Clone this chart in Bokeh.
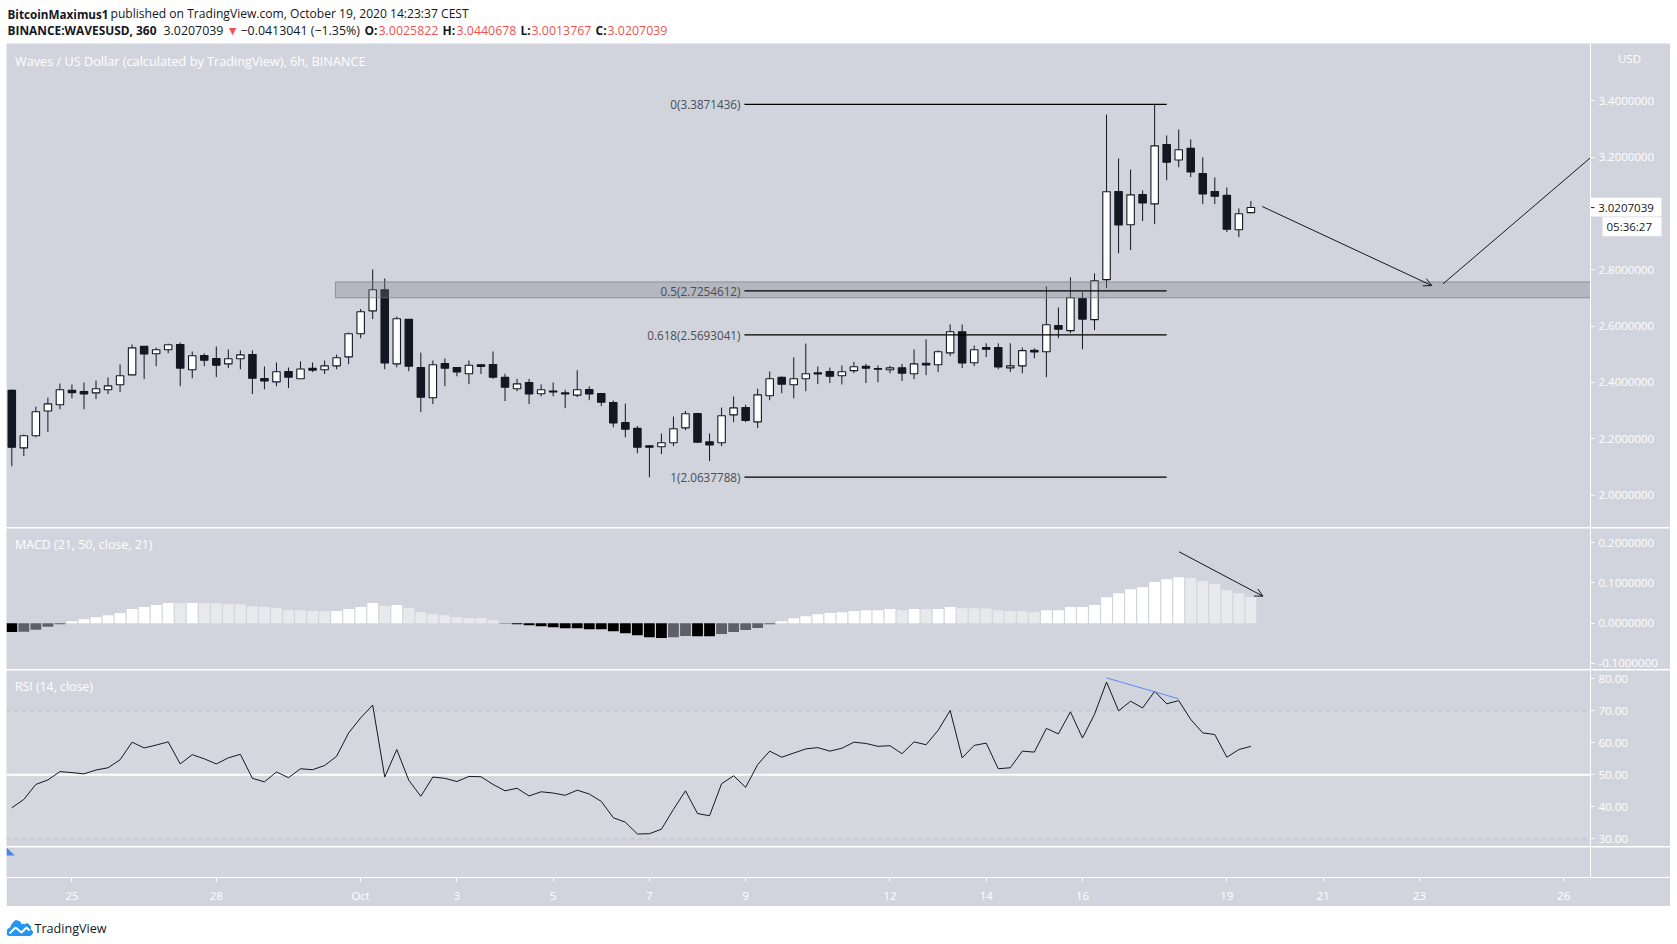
from bokeh.core.properties import value
from bokeh.embed import file_html
from bokeh.resources import INLINE
from bokeh.layouts import column
from bokeh.plotting import figure
from bokeh.models import (Range1d, Label, FixedTicker, NumeralTickFormatter, Arrow,
                          OpenHead, LinearAxis, ColumnDataSource)

opens = [2.372,2.168,2.211,2.299,2.321,2.372,2.368,2.363,2.374,2.392,2.427,2.528,2.502,2.516,2.535,2.445,2.496,2.485,2.466,2.484,
         2.499,2.414,2.402,2.439,2.413,2.450,2.445,2.459,2.491,2.573,2.654,2.729,2.466,2.624,2.453,2.346,2.467,2.453,2.431,2.463,
         2.464,2.418,2.378,2.400,2.360,2.370,2.363,2.355,2.375,2.361,2.329,2.258,2.237,2.175,2.172,2.186,2.239,2.290,2.189,2.186,
         2.285,2.311,2.260,2.353,2.418,2.392,2.413,2.434,2.439,2.424,2.442,2.457,2.449,2.445,2.452,2.431,2.468,2.463,2.505,2.580,
         2.470,2.524,2.524,2.452,2.459,2.514,2.509,2.602,2.584,2.698,2.623,2.765,3.078,2.960,3.067,3.034,3.245,3.190,3.231,3.142,
         3.078,3.064,2.942,3.003]
closes = [2.170,2.211,2.296,2.324,2.374,2.364,2.359,2.378,2.388,2.424,2.523,2.501,2.516,2.534,2.451,2.495,2.479,2.461,2.484,2.498,
          2.415,2.405,2.438,2.419,2.448,2.444,2.459,2.488,2.573,2.651,2.729,2.469,2.626,2.458,2.348,2.463,2.451,2.437,2.461,2.457,
          2.419,2.383,2.395,2.359,2.374,2.366,2.359,2.374,2.359,2.330,2.256,2.234,2.170,2.170,2.186,2.236,2.289,2.188,2.178,2.282,
          2.310,2.265,2.356,2.413,2.394,2.413,2.431,2.430,2.422,2.438,2.456,2.451,2.447,2.452,2.433,2.466,2.462,2.509,2.580,2.469,
          2.516,2.518,2.455,2.459,2.513,2.508,2.605,2.589,2.701,2.625,2.761,3.077,2.959,3.066,3.037,3.240,3.182,3.226,3.147,3.069,
          3.061,2.944,2.999,3.021]
highs = [2.375,2.215,2.314,2.346,2.396,2.393,2.400,2.407,2.418,2.464,2.535,2.528,2.524,2.538,2.542,2.510,2.503,2.528,2.517,2.514,
         2.514,2.457,2.471,2.453,2.475,2.471,2.478,2.499,2.577,2.661,2.801,2.769,2.634,2.624,2.506,2.478,2.485,2.454,2.478,2.465,
         2.510,2.431,2.413,2.413,2.393,2.400,2.374,2.443,2.386,2.363,2.336,2.325,2.246,2.178,2.219,2.279,2.299,2.292,2.219,2.311,
         2.350,2.321,2.378,2.439,2.421,2.489,2.538,2.457,2.453,2.460,2.473,2.466,2.460,2.459,2.466,2.517,2.553,2.514,2.606,2.606,
         2.531,2.539,2.539,2.539,2.524,2.521,2.741,2.666,2.773,2.720,2.787,3.351,3.195,3.156,3.082,3.389,3.277,3.298,3.263,3.199,
         3.128,3.092,3.018,3.044]
lows = [2.103,2.139,2.206,2.224,2.305,2.344,2.305,2.341,2.359,2.366,2.427,2.412,2.458,2.504,2.387,2.415,2.458,2.419,2.451,2.447,
        2.359,2.376,2.387,2.380,2.413,2.437,2.430,2.447,2.465,2.557,2.625,2.447,2.454,2.440,2.295,2.323,2.387,2.422,2.394,2.430,
        2.413,2.334,2.369,2.323,2.351,2.351,2.309,2.348,2.337,2.316,2.241,2.206,2.149,2.064,2.146,2.174,2.231,2.185,2.121,2.174,
        2.259,2.259,2.238,2.337,2.362,2.344,2.369,2.394,2.398,2.393,2.433,2.398,2.401,2.433,2.405,2.412,2.426,2.437,2.494,2.451,
        2.458,2.490,2.447,2.437,2.433,2.486,2.419,2.557,2.575,2.518,2.586,2.735,2.859,2.870,2.973,2.962,3.118,3.164,3.129,3.033,
        3.033,2.934,2.916,3.001]
macd_hist = [-.022,-.0215,-.0165,-.009,-.0025,.005,.010,.015,.020,.025,.035,.040,.045,.050,.0498,.0500,.0498,.0497,.047,.0468,
             .042,.040,.0375,.0325,.0323,.030,.0298,.0300,.035,.040,.050,.0425,.045,.0375,.0275,.0225,.020,.015,.0125,.0123,
             .0075,-.001,-.0025,-.005,-.0075,-.010,-.0125,-.0126,-.015,-.0152,-.020,-.025,-.030,-.035,-.037,-.035,-.032,-.0322,-.0325,-.027,
             -.022,-.017,-.012,-.0025,.005,.012,.017,.022,.025,.027,.030,.032,.0322,.035,.032,.035,.0348,.035,.040,.037,
             .0368,.0366,.032,.030,.0298,.027,.032,.0322,.040,.0402,.045,.0645,.0745,.084,.089,.102,.109,.114,.112,.104,
             .097,.082,.074,.0645]
rsi = [39.7,42.3,47.0,48.4,51.0,50.7,50.3,51.5,52.2,54.7,60.2,58.4,59.3,60.3,53.4,56.3,55.0,53.4,55.3,56.4,
       48.9,47.8,50.9,49.1,51.9,51.6,52.9,55.8,63.1,67.8,71.8,49.3,57.9,48.3,43.3,49.3,48.9,47.9,49.5,49.4,
       47.0,45.0,45.8,43.4,44.7,44.3,43.6,45.2,44.0,41.7,36.6,35.2,31.5,31.6,33.0,39.2,45.0,37.9,37.2,47.2,
       49.7,46.1,53.2,57.4,55.5,56.8,58.1,58.5,57.4,58.3,60.2,59.8,58.9,59.1,56.6,60.3,59.4,63.9,70.1,55.3,
       59.2,59.9,51.9,52.2,57.4,57.1,64.5,62.8,69.7,61.5,68.9,79.0,70.0,73.0,70.9,76.1,72.2,73.2,67.3,63.1,
       62.6,55.5,57.9,58.9]

price_ticks = [2.0,2.2,2.4,2.6,2.8,3.2,3.4]
macd_ticks = [-0.1,0.0,0.1,0.2]
rsi_ticks = [30,40,50,60,70,80]
time_tick_bars = [5,17,29,37,45,53,61,73,81,89,101,109,117,129]
time_tick_labels = ["25","28","Oct","3","5","7","9","12","14","16","19","21","23","26"]
fib_levels = [3.3871436,2.7254612,2.5693041,2.0637788]
fib_labels = ["0(3.3871436)","0.5(2.7254612)","0.618(2.5693041)","1(2.0637788)"]
fib_bar_start = 60.9
fib_bar_end = 96.0
zone_low, zone_high = 2.7006, 2.757
zone_bar_start = 26.9
path_down = ((103.94,3.0247),(118.04,2.744))
path_up = ((118.97,2.750),(131.23,3.198))
macd_arrow = ((97.03,.1772),(104.0,.067))
rsi_trend = ((91,97),(80.3,73.75))
last_price = 3.0207039
last_price_text = "3.0207039"
countdown_text = "05:36:27"

BG = "#d1d4dc"; DARK = "#131722"; W = 1664
X0, AXIS, X1 = -0.4406, 131.23, 137.88
FONT = "Open Sans"
bars = list(range(len(opens)))

def pane(h, yr, mb=0):
    f = figure(width=W, height=h, x_range=Range1d(X0, X1), y_range=Range1d(*yr),
               output_backend="svg", toolbar_location=None, y_axis_location=None,
               background_fill_color=BG, border_fill_color=BG, min_border=0, min_border_bottom=mb,
               outline_line_color=None, x_axis_location=None)
    f.grid.visible = False
    return f

def price_axis(f, ticks, fmt):
    ax = LinearAxis(fixed_location=AXIS, ticker=FixedTicker(ticks=ticks),
                    formatter=NumeralTickFormatter(format=fmt),
                    axis_line_color="white", major_tick_line_color="white",
                    major_tick_out=4, major_tick_in=0, minor_tick_line_color=None,
                    major_label_text_color="white", major_label_text_font=FONT,
                    major_label_text_font_size="11.5px", major_label_standoff=4)
    f.add_layout(ax, "right")
    return ax

def txt(f, x, y, s, color="white", size="12px", style="normal", align="left", alpha=1.0):
    f.add_layout(Label(x=x, y=y, x_units="screen", y_units="screen", text=s, text_color=color,
                       text_font=FONT, text_font_size=size, text_font_style=style, text_align=align,
                       text_alpha=alpha, text_baseline="middle"))

# header
hdr = figure(width=W, height=43, x_range=Range1d(0, 1), y_range=Range1d(0, 1), output_backend="svg",
             toolbar_location=None, x_axis_location=None, y_axis_location=None, min_border=0,
             outline_line_color=None, background_fill_color="white", border_fill_color="white")
hdr.grid.visible = False
hdr.scatter([-5],[-5])
for x, y, s, c, st, sz in [
    (1, 29, "BitcoinMaximus1", DARK, "bold", "11.7px"),
    (104, 29, "published on TradingView.com, October 19, 2020 14:23:37 CEST", DARK, "normal", "12.1px"),
    (1, 12.5, "BINANCE:WAVESUSD, 360", DARK, "bold", "11.9px"),
    (157, 12.5, "3.0207039", DARK, "normal", "12.4px"),
    (220, 12.5, "\u25BC", "#ef5350", "normal", "12.4px"),
    (234, 12.5, "\u22120.0413041 (\u22121.35%)", DARK, "normal", "12.4px"),
    (358, 12.5, "O:", DARK, "bold", "12px"), (372, 12.5, "3.0025822", "#ef5350", "normal", "12.4px"),
    (436, 12.5, "H:", DARK, "bold", "12px"), (450, 12.5, "3.0440678", "#ef5350", "normal", "12.4px"),
    (514, 12.5, "L:", DARK, "bold", "12px"), (525, 12.5, "3.0013767", "#ef5350", "normal", "12.4px"),
    (589, 12.5, "C:", DARK, "bold", "12px"), (601, 12.5, "3.0207039", "#ef5350", "normal", "12.4px")]:
    txt(hdr, x, y, s, color=c, size=sz, style=st)

# main pane
main = pane(484, (1.8852, 3.6033))
price_axis(main, price_ticks, "0.0000000")
src = ColumnDataSource(dict(x=bars, o=opens, c=closes, h=highs, l=lows,
                            top=[max(a, b) for a, b in zip(opens, closes)],
                            bot=[min(a, b) for a, b in zip(opens, closes)],
                            fill=["white" if c >= o else DARK for o, c in zip(opens, closes)]))
main.segment("x", "h", "x", "l", source=src, line_color=DARK, line_width=1)
main.vbar("x", 0.62, "top", "bot", source=src, fill_color="fill", line_color=DARK, line_width=1.1)
main.quad(left=[zone_bar_start], right=[AXIS], bottom=[zone_low], top=[zone_high],
          fill_color="#787b86", fill_alpha=0.33, line_color="#787b86", line_alpha=0.7, line_width=1)
for lv, lb in zip(fib_levels, fib_labels):
    main.line([fib_bar_start, fib_bar_end], [lv, lv], line_color="black", line_width=1.3)
main.text([fib_bar_start - 0.33]*4, fib_levels, fib_labels, text_align="right", text_baseline="middle",
          text_color="#4a4d55", text_font=value(FONT), text_font_size="11.7px")
main.add_layout(Arrow(end=OpenHead(size=8, line_color=DARK, line_width=1), x_start=path_down[0][0], y_start=path_down[0][1],
                      x_end=path_down[1][0], y_end=path_down[1][1], line_color=DARK, line_width=1))
main.line([path_up[0][0], path_up[1][0]], [path_up[0][1], path_up[1][1]], line_color=DARK, line_width=1)
main.quad(left=[AXIS], right=[137.13], bottom=[2.9896], top=[3.0556], fill_color="white", line_color=None)
main.quad(left=[132.23], right=[137.13], bottom=[2.9193], top=[2.9867], fill_color="white", line_color=None)
main.segment([AXIS], [last_price], [AXIS + 0.33], [last_price], line_color=DARK, line_width=1)
main.text([131.87], [last_price], [last_price_text], text_baseline="middle", text_color=DARK,
          text_font=value(FONT), text_font_size="11.5px")
main.text([132.56], [2.953], [countdown_text], text_baseline="middle", text_color=DARK,
          text_font=value(FONT), text_font_size="11.5px")
txt(main, 8.5, 467, "Waves / US Dollar (calculated by TradingView), 6h, BINANCE", size="12.7px")
txt(main, 1623, 469, "USD", size="11.5px", align="center")

# MACD pane
macd = pane(141, (-.1149, .235))
price_axis(macd, macd_ticks, "0.0000000")
shades = []
for i, v in enumerate(macd_hist):
    prev = macd_hist[i-1] if i else v - .001
    if v >= 0:
        shades.append("white" if v >= prev else "#e8e9ed")
    else:
        shades.append("black" if v < prev or i == 0 else "#5d606b")
macd.vbar(bars, 0.9, macd_hist, [0]*len(bars), fill_color=shades, line_color=None)
macd.add_layout(Arrow(end=OpenHead(size=8, line_color=DARK, line_width=1), x_start=macd_arrow[0][0], y_start=macd_arrow[0][1],
                      x_end=macd_arrow[1][0], y_end=macd_arrow[1][1], line_color=DARK, line_width=1))
txt(macd, 8.5, 125, "MACD (21, 50, close, 21)", size="12.4px")

# RSI pane
rp = pane(176, (27.6, 82.6))
price_axis(rp, rsi_ticks, "0.00")
rp.quad(left=[X0], right=[AXIS], bottom=[30], top=[70], fill_color="white", fill_alpha=0.08, line_color=None)
for lv in (30, 70):
    rp.line([X0, AXIS], [lv, lv], line_color="#bfc1c6", line_width=1, line_dash=[4, 4])
rp.line([X0, AXIS], [50, 50], line_color="white", line_width=2)
rp.line(bars, rsi, line_color=DARK, line_width=1)
rp.line(list(rsi_trend[0]), list(rsi_trend[1]), line_color="#5b8def", line_width=1)
txt(rp, 8.5, 160, "RSI (14, close)", size="12.3px")

# blank pane with time axis
tp = pane(59, (0, 30), mb=29)
price_axis(tp, [], "0.00")
xa = LinearAxis(ticker=FixedTicker(ticks=time_tick_bars),
                major_label_overrides=dict(zip(time_tick_bars, time_tick_labels)),
                axis_line_color="white", major_tick_line_color="white", minor_tick_line_color=None,
                major_tick_out=4, major_tick_in=0, major_label_text_color="white",
                major_label_text_font=FONT, major_label_text_font_size="11.5px", major_label_standoff=6)
tp.add_layout(xa, "below")
event_x = [X0, X0, 0.25]
event_y = [30, 22, 22]
tp.patch(event_x, event_y, fill_color="#4a86e8", line_color=None)

# footer
ft = figure(width=W, height=37, x_range=Range1d(6, 1670), y_range=Range1d(942, 905), output_backend="svg",
            toolbar_location=None, x_axis_location=None, y_axis_location=None, min_border=0,
            outline_line_color=None, background_fill_color="white", border_fill_color="white")
ft.grid.visible = False
logo_x = [6.5,7,10,12,15,19,21,24,27,30,30,32,32,30,8,6.5]
logo_y = [930,927,925,921,918,919,922,922,921,924,927,929,931,933,933,932]
ft.patch(logo_x, logo_y, fill_color="#2196f3", line_color="#2196f3")
ft.line([9,15,21,26,29], [931,925,930,925,928], line_color="white", line_width=2)
ft.text([34], [926], ["TradingView"], text_color=DARK, text_font=value(FONT), text_font_size="12.6px", text_baseline="middle")

page = column(hdr, main, macd, rp, tp, ft, spacing=1, margin=(-1, 0, 0, 6))
open("out.html", "w").write(file_html(page, INLINE))
